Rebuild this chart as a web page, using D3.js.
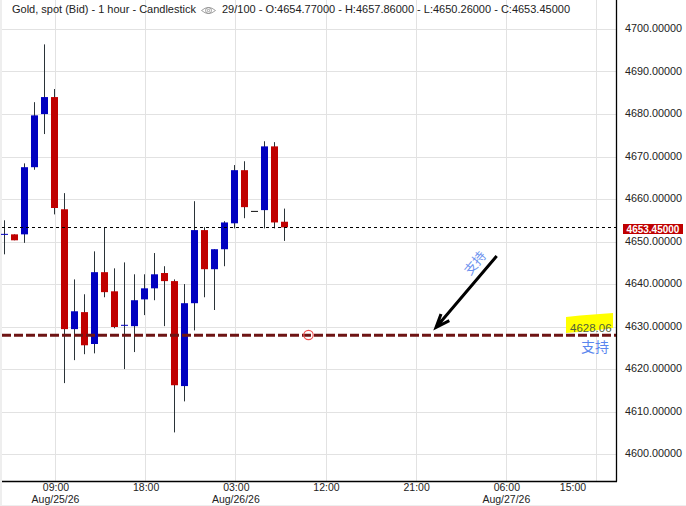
<!DOCTYPE html>
<html><head><meta charset="utf-8">
<script src="https://cdn.jsdelivr.net/npm/d3@7"></script>
<style>html,body{margin:0;padding:0;background:#fff}svg{display:block}text{font-family:"Liberation Sans",Arial,sans-serif}</style>
</head><body><svg id="c" width="686" height="506"></svg>
<script>
const opens =[4651.8,4651.8,4651.8,4667.6,4680.1,4684.1,4657.7,4629.5,4633.5,4626.0,4642.9,4638.4,4630.4,4630.2,4636.5,4639.1,4642.7,4640.8,4616.1,4635.6,4652.8,4643.6,4648.3,4654.4,4666.9,4657.2,4657.5,4672.5,4654.77];
const highs =[4655.1,4651.8,4668.5,4682.9,4696.5,4686.0,4661.5,4641.2,4637.7,4647.8,4653.5,4643.8,4645.2,4642.4,4642.4,4647.4,4644.3,4641.2,4640.1,4659.6,4653.5,4648.3,4654.9,4668.1,4669.0,4657.2,4673.7,4673.5,4657.86];
const lows  =[4647.1,4650.4,4649.8,4667.0,4675.4,4656.5,4616.8,4622.2,4623.6,4623.8,4637.0,4629.7,4620.1,4624.1,4632.8,4636.3,4630.2,4605.2,4612.5,4629.2,4637.0,4634.0,4644.3,4653.2,4655.6,4657.2,4653.2,4653.2,4650.26];
const closes=[4651.8,4650.4,4667.6,4679.8,4684.1,4658.0,4629.5,4633.7,4625.7,4642.9,4638.2,4630.0,4630.4,4636.3,4639.1,4642.4,4640.8,4616.3,4635.6,4652.8,4643.6,4648.3,4654.6,4666.9,4658.2,4657.2,4672.5,4654.6,4653.45];
const dojiColors={0:"#0000c0",12:"#0000c0",25:"#111111"};
const yTicks=[4600,4610,4620,4630,4640,4650,4660,4670,4680,4690,4700];
const timeIdx=[5,14,23,32,41,50,59];
const timeLabels=["09:00","18:00","03:00","12:00","21:00","06:00","15:00"];
const dateLabels={5:"Aug/25/26",23:"Aug/26/26",50:"Aug/27/26"};
const lastPrice=4653.45, supportPrice=4628.06;
const titleLeft="Gold, spot (Bid) - 1 hour - Candlestick";
const titleRight="29/100 - O:4654.77000 - H:4657.86000 - L:4650.26000 - C:4653.45000";

const svg=d3.select("#c");
const L=2,R=616.5,B=481.5;
const x=d3.scaleLinear().domain([0,28]).range([4.5,284.5]);
const xGrid=d3.scaleLinear().domain([5,59]).range([55.5,596.5]);
const y=d3.scaleLinear().domain([4600,4700]).range([454.5,29.5]);
const py=v=>Math.floor(y(v))+.5;

// frame
svg.append("rect").attr("x",0).attr("y",0).attr("width",2).attr("height",506).attr("fill","#eeeeee");
svg.append("rect").attr("x",0).attr("y",505).attr("width",686).attr("height",1).attr("fill","#eeeeee");

// grid
svg.append("g").selectAll("line").data(yTicks).join("line")
 .attr("x1",L).attr("x2",R).attr("y1",py).attr("y2",py).attr("stroke","#e2e2e2");
svg.append("g").selectAll("line").data(timeIdx).join("line")
 .attr("x1",d=>Math.round(xGrid(d)-.5)+.5).attr("x2",d=>Math.round(xGrid(d)-.5)+.5).attr("y1",0).attr("y2",B).attr("stroke","#e2e2e2");

// header
svg.append("text").attr("x",12).attr("y",13).attr("font-size",11).attr("textLength",184).attr("lengthAdjust","spacingAndGlyphs").attr("fill","#222").text(titleLeft);
svg.append("text").attr("x",222).attr("y",13).attr("font-size",11).attr("textLength",348).attr("lengthAdjust","spacingAndGlyphs").attr("fill","#222").text(titleRight);
const eye=svg.append("g").attr("fill","none").attr("stroke","#8a8a8a").attr("stroke-width",.8);
eye.append("path").attr("d","M201.5 10.5Q208.5 4.5 215.5 10.5Q208.5 16.5 201.5 10.5Z");
eye.append("circle").attr("cx",208.5).attr("cy",10.5).attr("r",3);
eye.append("circle").attr("cx",208.5).attr("cy",10.5).attr("r",1.2);

// candles
const idx=d3.range(opens.length);
svg.append("g").selectAll("line").data(idx.filter(i=>highs[i]!==lows[i])).join("line")
 .attr("x1",i=>x(i)).attr("x2",i=>x(i)).attr("y1",i=>y(highs[i])).attr("y2",i=>y(lows[i]))
 .attr("stroke","#2a3338");
svg.append("g").selectAll("rect").data(idx).join("rect")
 .attr("x",i=>x(i)-3.5).attr("width",7)
 .attr("y",i=>opens[i]===closes[i]?y(opens[i])-.5:y(Math.max(opens[i],closes[i])))
 .attr("height",i=>opens[i]===closes[i]?1:Math.abs(y(opens[i])-y(closes[i])))
 .attr("fill",i=>opens[i]===closes[i]?dojiColors[i]:(closes[i]>opens[i]?"#0000c0":"#c00000"));

// last price dashed
svg.append("line").attr("x1",L).attr("x2",R).attr("y1",py(lastPrice)).attr("y2",py(lastPrice))
 .attr("stroke","#000").attr("stroke-dasharray","3,3");

// highlight + support
svg.append("path").attr("d","M566 317L580 315.5L613 313L613 328L590 331L566 333Z").attr("fill","#ffff00");
svg.append("text").attr("x",570).attr("y",332).attr("font-size",11.5).attr("fill","#4f5f3a").text(supportPrice.toFixed(2));
svg.append("line").attr("x1",L).attr("x2",R).attr("y1",y(supportPrice)).attr("y2",y(supportPrice))
 .attr("stroke","#6e1414").attr("stroke-width",2.8).attr("stroke-dasharray","9,3");
svg.append("circle").attr("cx",308.5).attr("cy",335).attr("r",4.7).attr("fill","none").attr("stroke","#ee5050").attr("stroke-width",1.2);

// arrow
svg.append("path").attr("d","M496.7 256L436 327.5M441 314L436 327.5L449.3 320.7").attr("fill","none").attr("stroke","#000").attr("stroke-width",3);

// CJK notes
svg.append("text").attr("transform","translate(475,263) rotate(-50)").attr("text-anchor","middle").attr("dy","0.35em")
 .style("font-family",'"Noto Sans CJK SC"').attr("font-size",13).attr("fill","#6d92ee").text("支持");
svg.append("text").attr("x",595).attr("y",347.5).attr("text-anchor","middle").attr("dy","0.35em")
 .style("font-family",'"Noto Sans CJK SC"').attr("font-size",14).attr("fill","#5a86ee").text("支持");

// axes
const ay=svg.append("g").attr("transform",`translate(${R},0)`)
 .call(d3.axisRight(y).tickValues(yTicks).tickSize(0).tickPadding(8.5).tickFormat(d=>d.toFixed(5)));
ay.select(".domain").remove();
ay.selectAll("text").attr("font-size",10.8).attr("fill","#222").attr("dy","0.2em").style("font-family",'"Liberation Sans"');
const ax=svg.append("g").attr("transform",`translate(0,${B})`)
 .call(d3.axisBottom(xGrid).tickValues(timeIdx).tickSize(0).tickPadding(2).tickFormat((d,i)=>timeLabels[i]));
ax.select(".domain").remove();
ax.selectAll("text").attr("font-size",10.5).attr("fill","#222").style("font-family",'"Liberation Sans"');
// the last time label sits left of its grid line in the reference
ax.selectAll("text").filter((d,i)=>i===timeIdx.length-1).attr("x",-24);
svg.append("g").selectAll("text").data(Object.keys(dateLabels)).join("text")
 .attr("x",d=>xGrid(+d)).attr("y",502.5).attr("text-anchor","middle").attr("font-size",10.5).attr("fill","#222").text(d=>dateLabels[d]);
svg.append("line").attr("x1",L).attr("x2",R+.5).attr("y1",B).attr("y2",B).attr("stroke","#000").attr("stroke-width",1.3);
svg.append("line").attr("x1",R).attr("x2",R).attr("y1",0).attr("y2",B).attr("stroke","#000").attr("stroke-width",1.3);

// price tag
svg.append("rect").attr("x",623).attr("y",224).attr("width",60).attr("height",10).attr("fill","#c00000");
svg.append("text").attr("x",653).attr("y",232.5).attr("text-anchor","middle").attr("font-size",10).attr("font-weight","bold").attr("fill","#fff").text(lastPrice.toFixed(5));
</script></body></html>
